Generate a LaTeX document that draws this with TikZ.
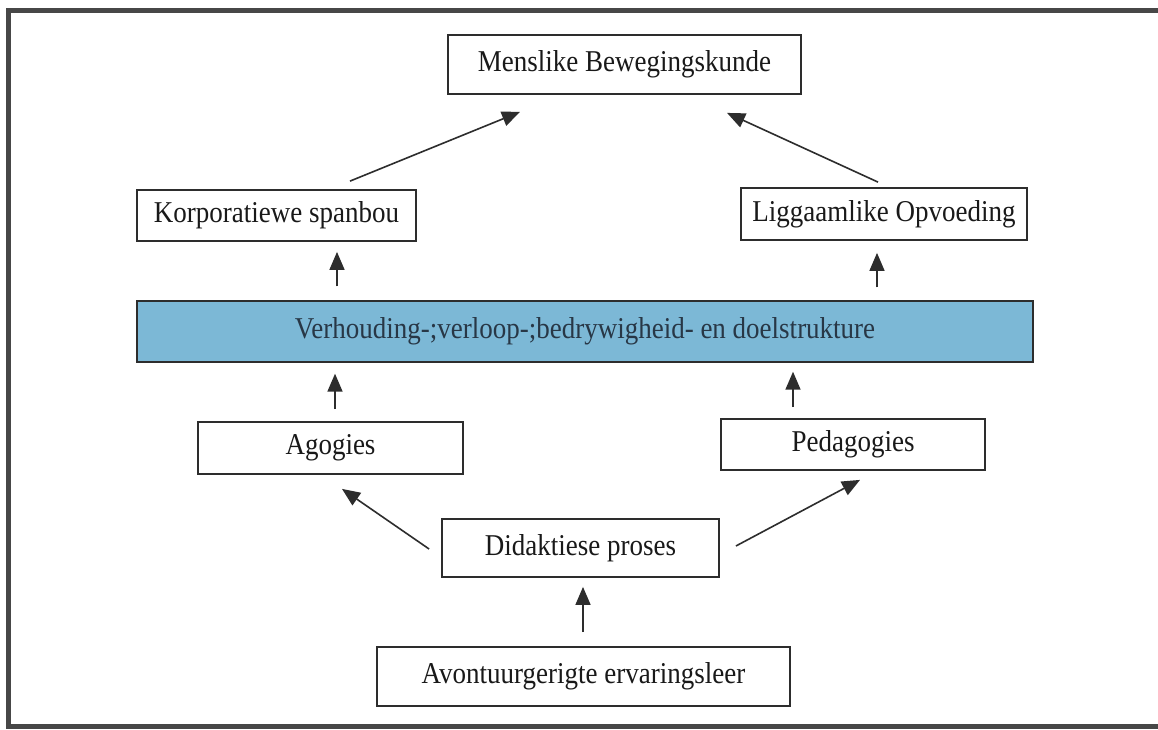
\documentclass[tikz,border=0pt]{standalone}
\usepackage{fontspec}
\setmainfont{Liberation Serif}
\usetikzlibrary{arrows.meta}
\definecolor{ink}{RGB}{45,45,45}
\definecolor{barblue}{RGB}{124,184,214}
\definecolor{bartext}{RGB}{40,55,70}
\newcommand{\tall}[1]{\scalebox{1}[1.12]{#1}}
\begin{document}
\begin{tikzpicture}[x=1pt,y=-1pt,
  box/.style={draw=ink,line width=1.8pt,fill=white,rectangle,inner sep=0pt,
    font=\fontsize{27}{30}\selectfont,text=black!90},
  bar/.style={box,fill=barblue,line width=1.4pt,text=bartext},
  arr/.style={draw=ink,line width=1.6pt,-{Triangle[length=18pt,width=15pt]}},
  frame/.style={draw=black!72,line width=5pt}]
\useasboundingbox (0,0) rectangle (1158,729);
\fill[white] (0,0) rectangle (1158,729);
\draw[frame] (1170,10) -- (8.5,10) -- (8.5,726.5) -- (1170,726.5);

% boxes
\node[box,minimum width=353pt,minimum height=59pt] (men) at (624.5,64.5) {\tall{Menslike Bewegingskunde}};
\node[box,minimum width=279pt,minimum height=51pt] (kor) at (276.5,215.5) {\tall{Korporatiewe spanbou}};
\node[box,minimum width=286pt,minimum height=52pt] (lig) at (884,214) {\tall{Liggaamlike Opvoeding}};
\node[bar,minimum width=896pt,minimum height=61pt] (blue) at (585,331.5) {\tall{Verhouding-;verloop-;bedrywigheid- en doelstrukture}};
\node[box,minimum width=265pt,minimum height=52pt] (ago) at (330.5,448) {\tall{Agogies}};
\node[box,minimum width=264pt,minimum height=51pt] (ped) at (853,444.5) {\tall{Pedagogies}};
\node[box,minimum width=277pt,minimum height=58pt] (did) at (580.5,548) {\tall{Didaktiese proses}};
\node[box,minimum width=413pt,minimum height=59pt] (avo) at (583.5,676.5) {\tall{Avontuurgerigte ervaringsleer}};

% connectors
\draw[arr] ([xshift=73.5pt,yshift=8pt]kor.north) -- ([xshift=-104.5pt,yshift=-17pt]men.south);
\draw[arr] ([xshift=-6pt,yshift=5pt]lig.north) -- ([xshift=102.5pt,yshift=-18pt]men.south);
\draw[arr] ([xshift=-248pt,yshift=14pt]blue.north) -- ([xshift=60.5pt,yshift=-10pt]kor.south);
\draw[arr] ([xshift=292pt,yshift=13pt]blue.north) -- ([xshift=-7pt,yshift=-12pt]lig.south);
\draw[arr] ([xshift=4.5pt,yshift=12pt]ago.north) -- ([xshift=-250pt,yshift=-11pt]blue.south);
\draw[arr] ([xshift=-60pt,yshift=11pt]ped.north) -- ([xshift=208pt,yshift=-9pt]blue.south);
\draw[arr] ([xshift=-12pt,yshift=-1pt]did.west) -- ([xshift=11.5pt,yshift=-14pt]ago.south);
\draw[arr] ([xshift=16pt,yshift=2pt]did.east) -- ([xshift=7pt,yshift=-9pt]ped.south);
\draw[arr] ([xshift=-0.5pt,yshift=14pt]avo.north) -- ([xshift=2.5pt,yshift=-9pt]did.south);
\end{tikzpicture}
\end{document}
